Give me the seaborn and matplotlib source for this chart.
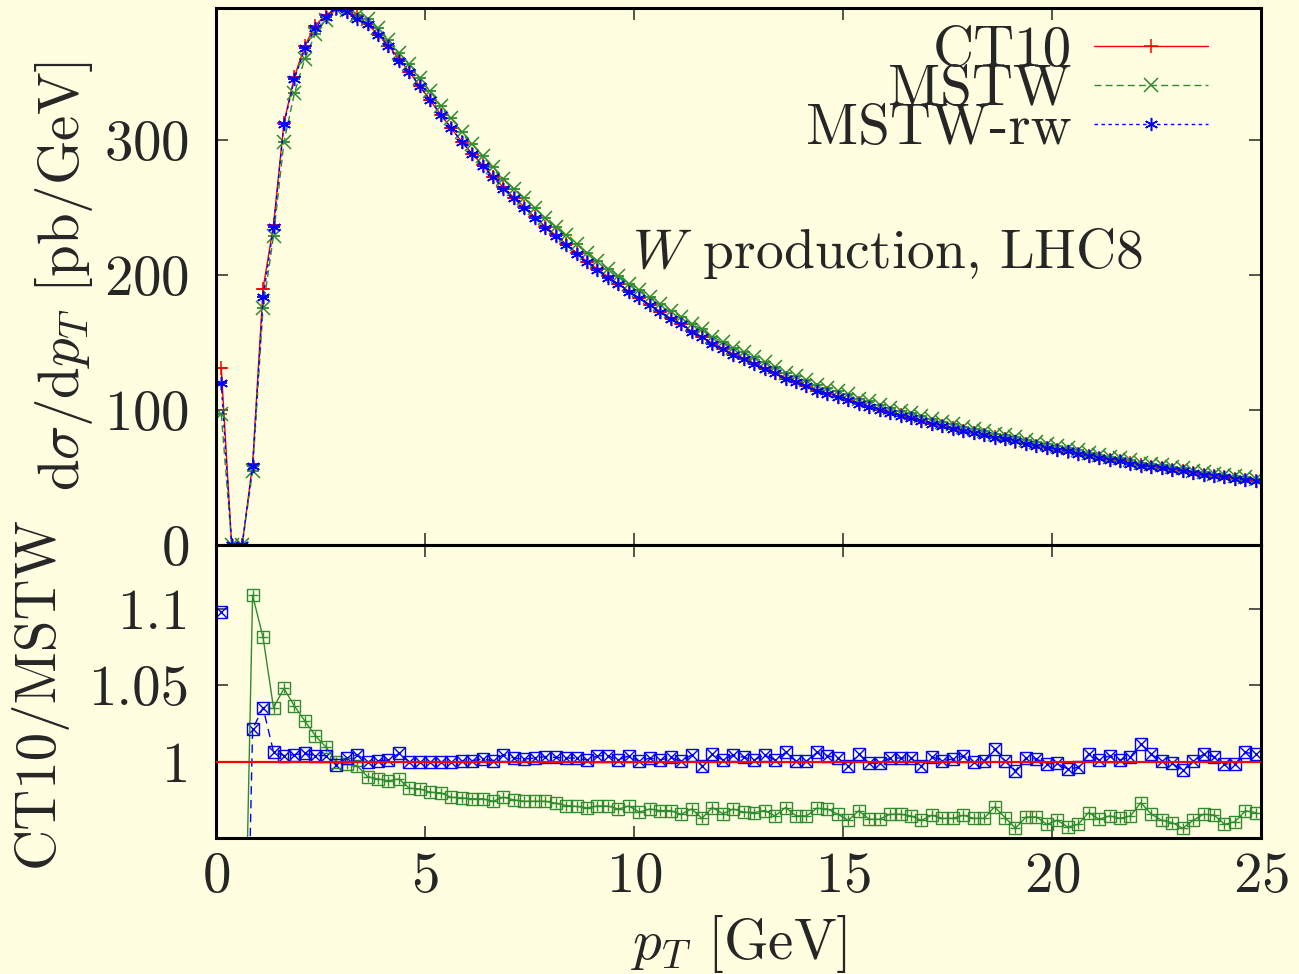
import numpy as np
import pandas as pd
import matplotlib
matplotlib.use("Agg")
import matplotlib.pyplot as plt
import seaborn as sns

# p_T bins of 0.25 GeV, points sit at the bin centres
pt = np.arange(0.125, 25.0, 0.25)

# d sigma / d p_T [pb/GeV]
ct10 = [131.5, 0, 0, 60, 190, 237, 313, 347, 370, 385,
        393, 397, 396, 392, 386, 378.5, 370, 360.5, 350.5, 340,
        329.5, 319, 309, 299, 290, 281.5, 273, 265, 257.5, 250.5,
        243, 236, 229.5, 223, 216.5, 210, 204.5, 199, 193.5, 188,
        183, 178, 173, 168, 163.5, 158.5, 154, 149.5, 145.5, 141.5,
        138, 134.5, 131, 127.5, 124, 121, 118, 115, 112.5, 110,
        107.5, 105, 102.5, 100, 98, 96, 94, 92, 90, 88,
        86.5, 84.5, 83, 81.5, 80, 78.5, 76.5, 75, 73.5, 72,
        70.5, 69, 67.5, 66, 64.5, 63, 62, 60.5, 59.5, 58,
        57, 55.5, 54.5, 53, 52, 51, 50, 49, 48.5, 47.5]

mstw = [97, 0, 0, 54.5, 175.7, 228.9, 298.7, 334.8, 360.4, 378.6,
        389.2, 397, 396.6, 393.0, 389.8, 382.8, 374.6, 364.6, 356.7, 346.2,
        336.2, 325.6, 316.4, 306.3, 297.2, 288.5, 280.3, 271.3, 264.1, 257.2,
        249.5, 242.3, 235.9, 229.6, 223.0, 216.5, 210.6, 204.9, 199.7, 193.6,
        189.2, 183.7, 178.7, 173.6, 169.3, 163.6, 159.9, 154.1, 150.6, 146.0,
        142.7, 139.1, 135.3, 132.2, 127.8, 125.5, 122.3, 118.6, 116.1, 113.9,
        111.8, 108.5, 106.5, 103.9, 101.5, 99.4, 97.5, 95.7, 93.3, 91.4,
        89.8, 87.6, 86.2, 84.6, 82.4, 81.5, 80.0, 77.8, 76.3, 75.1,
        73.3, 72.1, 70.4, 68.3, 67.0, 65.3, 64.4, 62.7, 61.1, 60.1,
        59.3, 57.8, 57.0, 55.1, 53.9, 52.8, 52.1, 51.0, 50.1, 49.1]

mstw_rw = [120, 0, 0, 58.8, 183.5, 235.5, 311.8, 345.4, 368.0, 383.5,
           391.4, 397.8, 395.1, 390.2, 386.0, 378.2, 369.6, 358.6, 350.5, 340.0,
           329.6, 319.0, 309.1, 298.9, 289.8, 281.0, 272.8, 263.8, 256.9, 250.1,
           242.4, 235.2, 228.9, 222.5, 216.0, 209.8, 203.7, 198.2, 193.3, 187.3,
           183.0, 177.6, 172.8, 167.5, 163.5, 157.8, 154.4, 148.8, 145.3, 140.9,
           137.6, 134.4, 130.4, 127.4, 123.2, 121.0, 118.0, 114.3, 112.1, 109.7,
           107.8, 104.5, 102.6, 100.1, 97.8, 95.8, 93.8, 92.2, 89.7, 87.9,
           86.3, 84.2, 83.0, 81.4, 79.3, 78.4, 77.0, 74.8, 73.4, 72.1,
           70.6, 69.3, 67.7, 65.7, 64.4, 62.8, 61.9, 60.3, 58.8, 57.7,
           57.0, 55.6, 54.8, 53.0, 51.7, 50.8, 50.1, 49.1, 48.2, 47.3]

# CT10/MSTW (green) and CT10/MSTW-rw (blue), lower panel
ratio_mstw = [1.34, np.nan, 0.78, 1.109, 1.0815, 1.0354, 1.048, 1.0365, 1.0267, 1.017,
              1.0098, 1.0, 0.9985, 0.9974, 0.9902, 0.9887, 0.9876, 0.9887, 0.9826, 0.9822,
              0.980, 0.9796, 0.9767, 0.9763, 0.9757, 0.9757, 0.9741, 0.9767, 0.975, 0.9741,
              0.9741, 0.9741, 0.9728, 0.9713, 0.9707, 0.9698, 0.971, 0.971, 0.969, 0.971,
              0.967, 0.969, 0.968, 0.968, 0.9656, 0.969, 0.963, 0.970, 0.966, 0.969,
              0.967, 0.9667, 0.968, 0.9645, 0.970, 0.9645, 0.9645, 0.9695, 0.969, 0.9656,
              0.9616, 0.9678, 0.9623, 0.9623, 0.9656, 0.9656, 0.9645, 0.9616, 0.9649, 0.9629,
              0.9629, 0.9649, 0.9629, 0.9629, 0.9704, 0.9634, 0.9564, 0.9638, 0.9638, 0.959,
              0.9616, 0.9572, 0.959, 0.9667, 0.9623, 0.9645, 0.9629, 0.9645, 0.9732, 0.9656,
              0.9616, 0.9601, 0.9564, 0.9616, 0.9656, 0.9651, 0.959, 0.9607, 0.9678, 0.9667]

ratio_mstw_rw = [1.098, np.nan, 0.71, 1.0213, 1.0354, 1.0065, 1.004, 1.0046, 1.0054, 1.004,
                 1.004, 0.998, 1.0024, 1.0046, 1.0, 1.0007, 1.0011, 1.0054, 1.0, 1.0,
                 0.9996, 1.0, 0.9996, 1.0002, 1.0007, 1.0017, 1.0007, 1.0046, 1.0024, 1.0017,
                 1.0024, 1.0033, 1.0028, 1.0024, 1.0024, 1.0011, 1.0039, 1.0039, 1.0011, 1.0039,
                 1.0002, 1.0024, 1.0011, 1.0029, 1.0002, 1.0044, 0.9974, 1.005, 1.0011, 1.0044,
                 1.0029, 1.0011, 1.0044, 1.0011, 1.0061, 1.0002, 1.0002, 1.0061, 1.0039, 1.0024,
                 0.9974, 1.005, 0.9989, 0.9989, 1.0024, 1.0024, 1.0024, 0.9974, 1.0033, 1.0007,
                 1.0018, 1.0039, 0.9996, 1.0007, 1.0083, 1.0007, 0.9941, 1.0024, 1.0018, 0.9985,
                 0.9989, 0.9952, 0.9963, 1.005, 1.0011, 1.0039, 1.0011, 1.0033, 1.0116, 1.005,
                 1.0002, 0.9989, 0.9945, 1.0002, 1.005, 1.0033, 0.9985, 0.9985, 1.0061, 1.005]

x_ticks = [0, 5, 10, 15, 20, 25]
top_ticks = [0, 100, 200, 300]
ratio_ticks = [1.0, 1.05, 1.1]
ratio_tick_labels = ["1", "1.05", "1.1"]

red, green, blue = "#ff0000", "#2e8b2e", "#0000ff"
bg = "#fffee0"
fs = 41

sns.set_style("ticks")
plt.rcParams.update({
    "font.family": ["cmr10"],
    "mathtext.fontset": "cm",
    "axes.formatter.use_mathtext": True,
    "axes.unicode_minus": False,
    "axes.facecolor": bg,
    "figure.facecolor": bg,
    "axes.edgecolor": "black",
    "axes.linewidth": 2.2,
})

fig = plt.figure(figsize=(12.99, 9.74), dpi=100)
ax1 = fig.add_axes([0.1663, 0.4405, 0.8045, 0.5513])
ax2 = fig.add_axes([0.1663, 0.1396, 0.8045, 0.3009])

# upper panel
asterisk = (6, 2, 0)
series = [
    (ct10, "CT10", red, "-", "+"),
    (mstw, "MSTW", green, (0, (5, 3)), "x"),
    (mstw_rw, "MSTW-rw", blue, (0, (2.5, 2.5)), asterisk),
]
for vals, name, col, ls, mk in series:
    sns.lineplot(x=pt, y=vals, ax=ax1, color=col, lw=1.0, linestyle=ls,
                 marker=mk, markersize=9.5, markeredgecolor=col,
                 markeredgewidth=1.1, label=name)
    sns.scatterplot(x=pt, y=vals, ax=ax1, marker="_", color=col, s=70,
                    linewidth=1.3)

ax1.set_xlim(0, 25)
ax1.set_ylim(0, 398)
ax1.set_xticks(x_ticks)
ax1.set_yticks(top_ticks)
ax1.tick_params(labelbottom=False)
ax1.set_ylabel(r"d$\sigma$/d$p_T$ [pb/GeV]", fontsize=fs)
ax1.yaxis.set_label_coords(-0.116, 0.5)
ax1.set_xlabel("")
ax1.text(0.398, 0.516, r"$W$ production, LHC8", transform=ax1.transAxes,
         fontsize=40, ha="left", va="baseline")
ax1.legend(loc="upper right", bbox_to_anchor=(0.955, 0.978), frameon=False,
           fontsize=fs, markerfirst=False, handlelength=2.0,
           handletextpad=0.4, labelspacing=-0.21, borderpad=0.1,
           borderaxespad=0.0)

# lower panel: ratios, split at the missing bin
ratio_series = [
    (ratio_mstw, green, "-", "+"),
    (ratio_mstw_rw, blue, (0, (6, 4)), "x"),
]
for vals, col, ls, mk in ratio_series:
    df = pd.DataFrame({"pt": pt, "r": vals})
    df["seg"] = df["r"].isna().cumsum()
    df = df.dropna()
    sns.lineplot(data=df, x="pt", y="r", units="seg", estimator=None, ax=ax2,
                 color=col, lw=1.0, linestyle=ls, marker="s", markersize=8.5,
                 markerfacecolor="none", markeredgecolor=col,
                 markeredgewidth=1.0)
    sns.scatterplot(data=df, x="pt", y="r", ax=ax2, marker=mk, color=col,
                    s=60, linewidth=1.0)
ax2.axhline(1.0, color=red, lw=1.6, zorder=5)

ax2.set_xlim(0, 25)
ax2.set_ylim(0.95, 1.142)
ax2.set_xticks(x_ticks)
ax2.set_yticks(ratio_ticks)
ax2.set_yticklabels(ratio_tick_labels)
ax2.set_ylabel("CT10/MSTW", fontsize=fs)
ax2.yaxis.set_label_coords(-0.143, 0.5)
ax2.set_xlabel(r"$p_T$ [GeV]", fontsize=fs)
ax2.xaxis.set_label_coords(0.5, -0.255)

for ax in (ax1, ax2):
    ax.tick_params(direction="in", length=8.6, width=1.1, top=True,
                   right=True, labelsize=fs)
    ax.tick_params(axis="y", pad=19)
    ax.tick_params(axis="x", pad=10)
    for s in ax.spines.values():
        s.set_linewidth(2.2)

fig.savefig("out.png", dpi=100, facecolor=bg)
